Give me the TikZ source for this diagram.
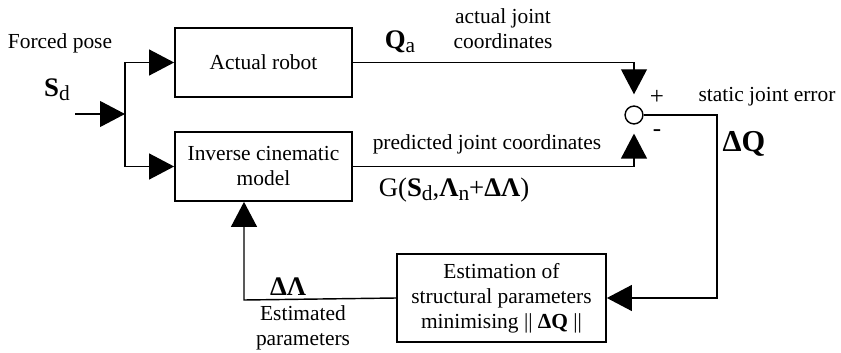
\documentclass[tikz,border=0pt]{standalone}
\usepackage{fontspec}
\setmainfont{Liberation Serif}
\usetikzlibrary{arrows.meta}
\newcommand{\sbs}[1]{\raisebox{-0.3ex}{\fontsize{12}{12}\selectfont #1}}
\tikzset{
  blockbox/.style={draw, line width=1pt, minimum width=99.1pt,
    minimum height=38.6pt, align=center, inner sep=2pt},
  link/.style={line width=0.8pt, -{Triangle[length=14pt,width=14.5pt]}},
  plain/.style={line width=0.8pt},
  lbl/.style={inner sep=0pt, align=center},
  biglbl/.style={lbl, font=\fontsize{15}{17}\selectfont},
}
\begin{document}
\begin{tikzpicture}[x=0.56pt,y=-0.56pt,font=\fontsize{12}{14}\selectfont]
  \useasboundingbox (0,0) rectangle (841,353);
  % blocks
  \node[blockbox] (robot) at (263.5,62.5) {Actual robot};
  \node[blockbox] (inverse) at (263.5,166.5) {Inverse cinematic\\model};
  \node[blockbox,minimum width=117pt,minimum height=49.3pt] (estim)
    at (501.5,298) {Estimation of\\structural parameters\\minimising || \textbf{ΔQ} ||};
  \node[circle,draw,line width=0.8pt,minimum size=10pt,inner sep=0pt] (sum)
    at (634,115) {};
  % corners of the wires
  \coordinate (input) at (75,114);
  \coordinate (split) at (125,114);
  \coordinate (errcorner) at (717,115);
  \coordinate (fbcorner) at (244,300);
  % wires
  \draw[link] (input) -- (split);
  \draw[link] (split) |- (robot.west);
  \draw[link] (split) |- (inverse.west);
  \draw[link,shorten >=6.2pt] (robot.east) -| (sum.north);
  \draw[link,shorten >=5pt] (inverse.east) -| (sum.south);
  \draw[link] (sum.east) -- (errcorner) |- (estim.east);
  \draw[link] (estim.west) -- (fbcorner) -- (fbcorner |- inverse.south);
  % labels
  \node[lbl] (forced) at (60,43) {Forced pose};
  \node[biglbl] (sdlbl) at (57,90) {\textbf{S}\sbs{d}};
  \node[biglbl] (qalbl) at (400,42) {\textbf{Q}\sbs{a}};
  \node[lbl] (actlbl) at (503,29) {actual joint\\coordinates};
  \node[lbl,font=\fontsize{14}{16}\selectfont] (plus) at (657,97) {+};
  \node[lbl,font=\fontsize{14}{16}\selectfont] (minus) at (657,133) {-};
  \node[lbl] (errlbl) at (767,97) {static joint error};
  \node[lbl,font=\fontsize{17}{19}\selectfont] (dqlbl) at (744,144) {\textbf{ΔQ}};
  \node[lbl] (predlbl) at (487,144) {predicted joint coordinates};
  \node[biglbl] (glbl) at (454,190)
    {G(\textbf{S}\sbs{d},\textbf{Λ}\sbs{n}+\textbf{ΔΛ})};
  \node[biglbl] (dllbl) at (288,287) {\textbf{ΔΛ}};
  \node[lbl] (estlbl) at (303,328) {Estimated\\parameters};
\end{tikzpicture}
\end{document}
